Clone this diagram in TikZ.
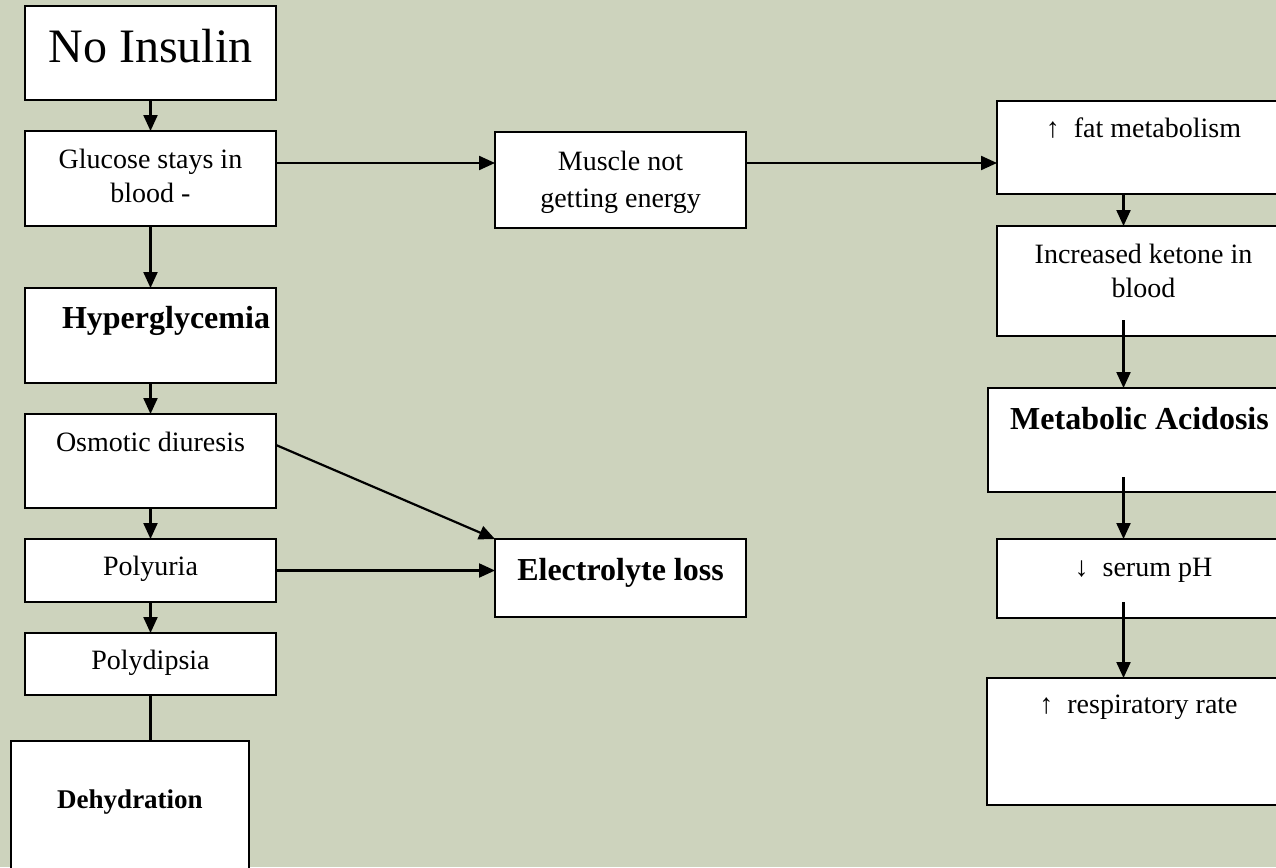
\documentclass[tikz,border=0pt]{standalone}
\usepackage{fontspec}
\setmainfont{Liberation Serif}
\usetikzlibrary{arrows.meta}

\definecolor{sage}{RGB}{205,211,189}

% text box: width, height, first baseline from top, text
\newcommand{\boxtxt}[4]{\parbox[t][#2][t]{#1}{\centering\rule{0pt}{#3}#4}}

\begin{document}
\begin{tikzpicture}[x=1pt, y=-1pt,
    stage/.style={draw, fill=white, line width=1.8pt, inner sep=0pt, outer sep=0pt, anchor=north west},
    arr/.style={line width=2.2pt, -{Triangle[length=16pt, width=14pt]}},
    font=\fontsize{28}{34}\selectfont]
    \useasboundingbox (0,0) rectangle (1276,867);
    \clip (0,0) rectangle (1276,867);
    \fill[sage] (0,0) rectangle (1276,867);

    % left column
    \node[stage] (noinsulin) at (25,6) {\boxtxt{251pt}{94pt}{57pt}{\fontsize{48}{56}\selectfont No Insulin}};
    \node[stage] (glucose) at (25,131) {\boxtxt{251pt}{95pt}{37pt}{Glucose stays in\\blood -}};
    \node[stage] (hyper) at (25,288) {\boxtxt{251pt}{95pt}{40pt}{\hspace*{31pt}\fontsize{32}{38}\selectfont\bfseries Hyperglycemia}};
    \node[stage] (osmotic) at (25,414) {\boxtxt{251pt}{94pt}{37pt}{Osmotic diuresis}};
    \node[stage] (polyuria) at (25,539) {\boxtxt{251pt}{63pt}{36pt}{Polyuria}};
    \node[stage] (polydipsia) at (25,633) {\boxtxt{251pt}{62pt}{36pt}{Polydipsia}};
    \node[stage] (dehydration) at (11,741) {\boxtxt{238pt}{140pt}{67pt}{\fontsize{27}{32}\selectfont\bfseries Dehydration}};

    % middle
    \node[stage] (muscle) at (495,132) {\boxtxt{251pt}{96pt}{38pt}{\fontsize{28}{37}\selectfont Muscle not\\getting energy}};
    \node[stage] (electrolyte) at (495,539) {\boxtxt{251pt}{78pt}{41pt}{\fontsize{32}{38}\selectfont\bfseries Electrolyte loss}};

    % right column
    \node[stage] (fat) at (997,101) {\boxtxt{293pt}{93pt}{36pt}{↑\ \ fat metabolism}};
    \node[stage] (ketone) at (997,226) {\boxtxt{293pt}{110pt}{37pt}{Increased ketone in\\blood}};
    \node[stage] (acidosis) at (988,388) {\boxtxt{303pt}{104pt}{41pt}{\fontsize{32}{38}\selectfont\bfseries Metabolic Acidosis}};
    \node[stage] (serum) at (997,539) {\boxtxt{293pt}{79pt}{37pt}{↓\ \ serum pH}};
    \node[stage] (resp) at (987,678) {\boxtxt{303pt}{127pt}{35pt}{↑\ \ respiratory rate}};

    \draw[arr] (noinsulin) -- (glucose);
    \draw[arr] (glucose) -- (hyper);
    \draw[arr] (hyper) -- (osmotic);
    \draw[arr] (osmotic) -- (polyuria);
    \draw[arr] (polyuria) -- (polydipsia);
    \draw[line width=2.2pt] (polydipsia) -- (polydipsia |- dehydration.north);

    \draw[arr] ([yshift=15.5pt]glucose.east) -- ([yshift=15.5pt]glucose.east -| muscle.west);
    \draw[arr] ([yshift=17pt]muscle.east) -- ([yshift=17pt]muscle.east -| fat.west);
    \draw[arr] ([yshift=16pt]osmotic.east) -- (electrolyte.north west);
    \draw[arr] (polyuria.east) -- (polyuria.east -| electrolyte.west);

    \draw[arr] ([xshift=-20pt]fat.south) -- ([xshift=-20pt]fat.south |- ketone.north);
    \draw[arr] ([xshift=-20pt,yshift=16pt]ketone.south) -- ([xshift=-20pt]ketone.south |- acidosis.north);
    \draw[arr] ([xshift=-20pt,yshift=15pt]serum.north |- acidosis.south) -- ([xshift=-20pt]serum.north);
    \draw[arr] ([xshift=-20pt,yshift=16pt]serum.south) -- ([xshift=-20pt]serum.south |- resp.north);
    % \draw (resp.south) -- ++(0,20);
\end{tikzpicture}
\end{document}
